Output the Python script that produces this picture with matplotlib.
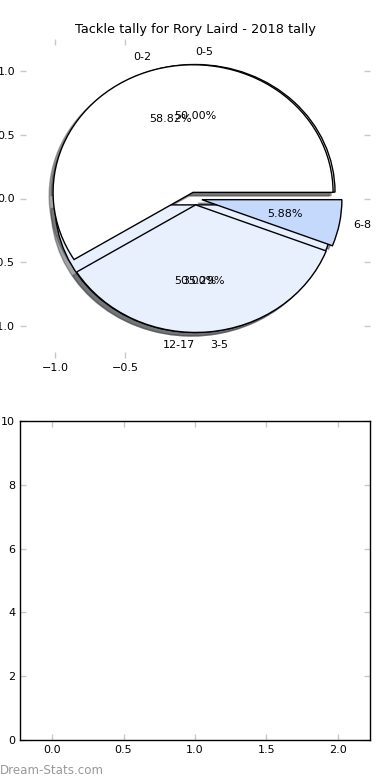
import matplotlib
matplotlib.use('Agg')
import matplotlib.pyplot as plt

title = "Tackle tally for Rory Laird - 2018 tally"
labels_a = ["0-2", "3-5", "6-8"]
values_a = [10, 6, 1]
colors_a = ["#ffffff", "#e8f0fe", "#c5d9fd"]
labels_b = ["0-5", "12-17"]
values_b = [1, 1]
colors_b = ["#ffffff", "#e8f0fe"]
pie_xticks = [-1.0, -0.5]
pie_yticks = [-1.0, -0.5, 0.0, 0.5, 1.0]
bar_xticks = [0.0, 0.5, 1.0, 1.5, 2.0]
bar_yticks = [0, 2, 4, 6, 8, 10]
watermark = "Dream-Stats.com"

FS = 8
W, H = 390, 780
fig = plt.figure(figsize=(W / 100, H / 100), dpi=100)
ax1 = fig.add_axes([20 / W, 1 - 358 / H, 350 / W, 319 / H])
ax2 = fig.add_axes([20 / W, 40 / H, 350 / W, 319 / H])

wp = dict(edgecolor='black', linewidth=1)
tp = dict(fontsize=FS)
wb, tb, ab = ax1.pie(values_b, labels=labels_b, colors=colors_b,
                     explode=[0.05] * len(values_b), autopct='%1.2f%%',
                     shadow=True, startangle=0, wedgeprops=wp, textprops=tp)
wa, ta, aa = ax1.pie(values_a, labels=labels_a, colors=colors_a,
                     explode=[0.05] * len(values_a), autopct='%1.2f%%',
                     shadow=True, startangle=0, wedgeprops=wp, textprops=tp)
# older matplotlib aligned the half-pie labels this way
tb[0].set_ha('left')
tb[1].set_ha('right')

ax1.set_aspect('auto')
ax1.set_frame_on(False)
ax1.set_xlim(-1.25, 1.25)
ax1.set_ylim(-1.25, 1.25)
ax1.set_xticks(pie_xticks)
ax1.set_yticks(pie_yticks)
ax1.set_title(title, fontsize=9.3, pad=4)

for ax in (ax1, ax2):
    ax.tick_params(direction='in', length=4, width=1, color='#c8c8c8',
                   top=True, right=True, labelsize=FS, pad=3.5, labelcolor='black')

ax2.set_xlim(-0.224, 2.224)
ax2.set_ylim(0, 10)
ax2.set_xticks(bar_xticks)
ax2.set_yticks(bar_yticks)
for s in ax2.spines.values():
    s.set_color('black')
    s.set_linewidth(1)

fig.text(0, 1 - 770 / H, watermark, color='#999999', fontsize=8.6, ha='left', va='center')

fig.savefig('out.png', dpi=100)
